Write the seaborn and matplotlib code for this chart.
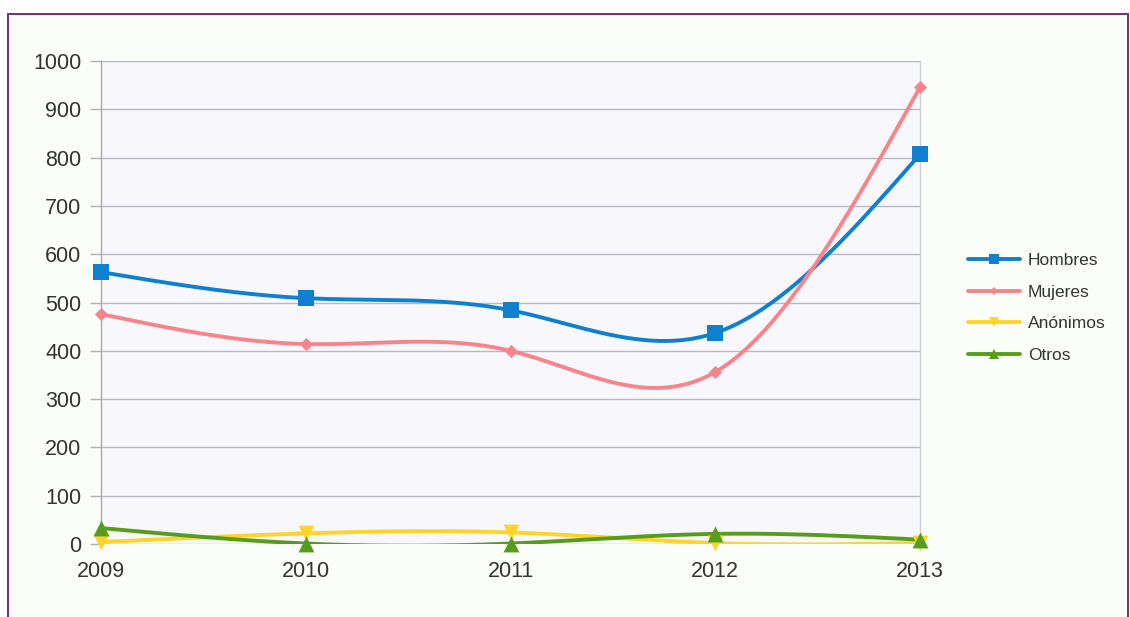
import numpy as np
import pandas as pd
import matplotlib
matplotlib.use("Agg")
import matplotlib.pyplot as plt
from matplotlib.lines import Line2D
from matplotlib.patches import Rectangle
import seaborn as sns

years = [2009, 2010, 2011, 2012, 2013]
hombres = [563, 509, 484, 437, 807]
mujeres = [476, 414, 400, 356, 946]
anonimos = [4, 22, 24, 2, 2]
otros = [33, 1, 1, 21, 9]
series_names = ["Hombres", "Mujeres", "Anónimos", "Otros"]
y_ticks = [0, 100, 200, 300, 400, 500, 600, 700, 800, 900, 1000]

colors = ["#0f7fd0", "#f6848a", "#ffd42a", "#579d1c"]
markers = ["s", "D", "v", "^"]
msizes = [130, 45, 130, 130]


def natural_spline(x, y, n=300):
    x = np.asarray(x, float)
    y = np.asarray(y, float)
    k = len(x)
    h = np.diff(x)
    A = np.zeros((k, k))
    b = np.zeros(k)
    A[0, 0] = 1
    A[-1, -1] = 1
    for i in range(1, k - 1):
        A[i, i - 1] = h[i - 1]
        A[i, i] = 2 * (h[i - 1] + h[i])
        A[i, i + 1] = h[i]
        b[i] = 6 * ((y[i + 1] - y[i]) / h[i] - (y[i] - y[i - 1]) / h[i - 1])
    M = np.linalg.solve(A, b)
    xs = np.linspace(x[0], x[-1], n)
    ys = np.empty_like(xs)
    for j, xv in enumerate(xs):
        i = min(np.searchsorted(x, xv, side="right") - 1, k - 2)
        t1 = x[i + 1] - xv
        t0 = xv - x[i]
        hi = h[i]
        ys[j] = (M[i] * t1 ** 3 / (6 * hi) + M[i + 1] * t0 ** 3 / (6 * hi)
                 + (y[i] / hi - M[i] * hi / 6) * t1
                 + (y[i + 1] / hi - M[i + 1] * hi / 6) * t0)
    return xs, ys


sns.set_theme(style="white")
plt.rcParams["font.family"] = ["Liberation Sans", "DejaVu Sans"]

fig = plt.figure(figsize=(11.3, 6.17), dpi=100)
fig.patch.set_facecolor("white")
fig.patches.append(Rectangle((0.007, -0.01), 0.991, 0.987, transform=fig.transFigure,
                             facecolor="#fbfdf9", edgecolor="#7d2a86", linewidth=1.4,
                             zorder=-10))

ax = fig.add_axes([0.0894, 0.1183, 0.7248, 0.7828])
ax.set_zorder(2)
ax.set_facecolor("#f8f8fc")

data = [hombres, mujeres, anonimos, otros]
for name, vals, c, m, s in zip(series_names, data, colors, markers, msizes):
    xs, ys = natural_spline(years, vals)
    sns.lineplot(x=xs, y=ys, ax=ax, color=c, linewidth=2.8, zorder=3, sort=False)
    sns.scatterplot(x=years, y=vals, ax=ax, color=c, marker=m, s=s, linewidth=0,
                    zorder=4, clip_on=False)

ax.set_xlim(2009, 2013)
ax.set_ylim(0, 1000)
ax.set_yticks(y_ticks)
ax.set_yticklabels([str(v) for v in y_ticks])
ax.set_xticks(years)
ax.set_xticklabels([str(v) for v in years])
ax.grid(axis="y", color="#b8b8c4", linewidth=1.0)
ax.grid(axis="x", visible=False)
ax.set_axisbelow(True)
ax.tick_params(axis="y", length=8, width=1, color="#b0b0b0", pad=6,
               labelsize=15.5, labelcolor="#333333", left=True)
ax.tick_params(axis="x", length=0, pad=12, labelsize=15.5, labelcolor="#333333")
for side in ["top", "bottom"]:
    ax.spines[side].set_visible(False)
ax.spines["left"].set_color("#a8a8a8")
ax.spines["left"].set_linewidth(1.0)
ax.spines["right"].set_color("#d0d0d8")
ax.spines["right"].set_linewidth(1.0)
ax.set_xlabel("")
ax.set_ylabel("")

handles = [Line2D([0], [0], color=c, lw=2.8, marker=m, markersize=7 if m != "D" else 4.5,
                  markeredgewidth=0)
           for c, m in zip(colors, markers)]
fig.legend(handles, series_names, loc="center left", bbox_to_anchor=(0.843, 0.501),
           frameon=False, fontsize=12.5, handlelength=3.0, handletextpad=0.45,
           labelspacing=0.95, labelcolor="#333333")

fig.savefig("out.png", dpi=100)
